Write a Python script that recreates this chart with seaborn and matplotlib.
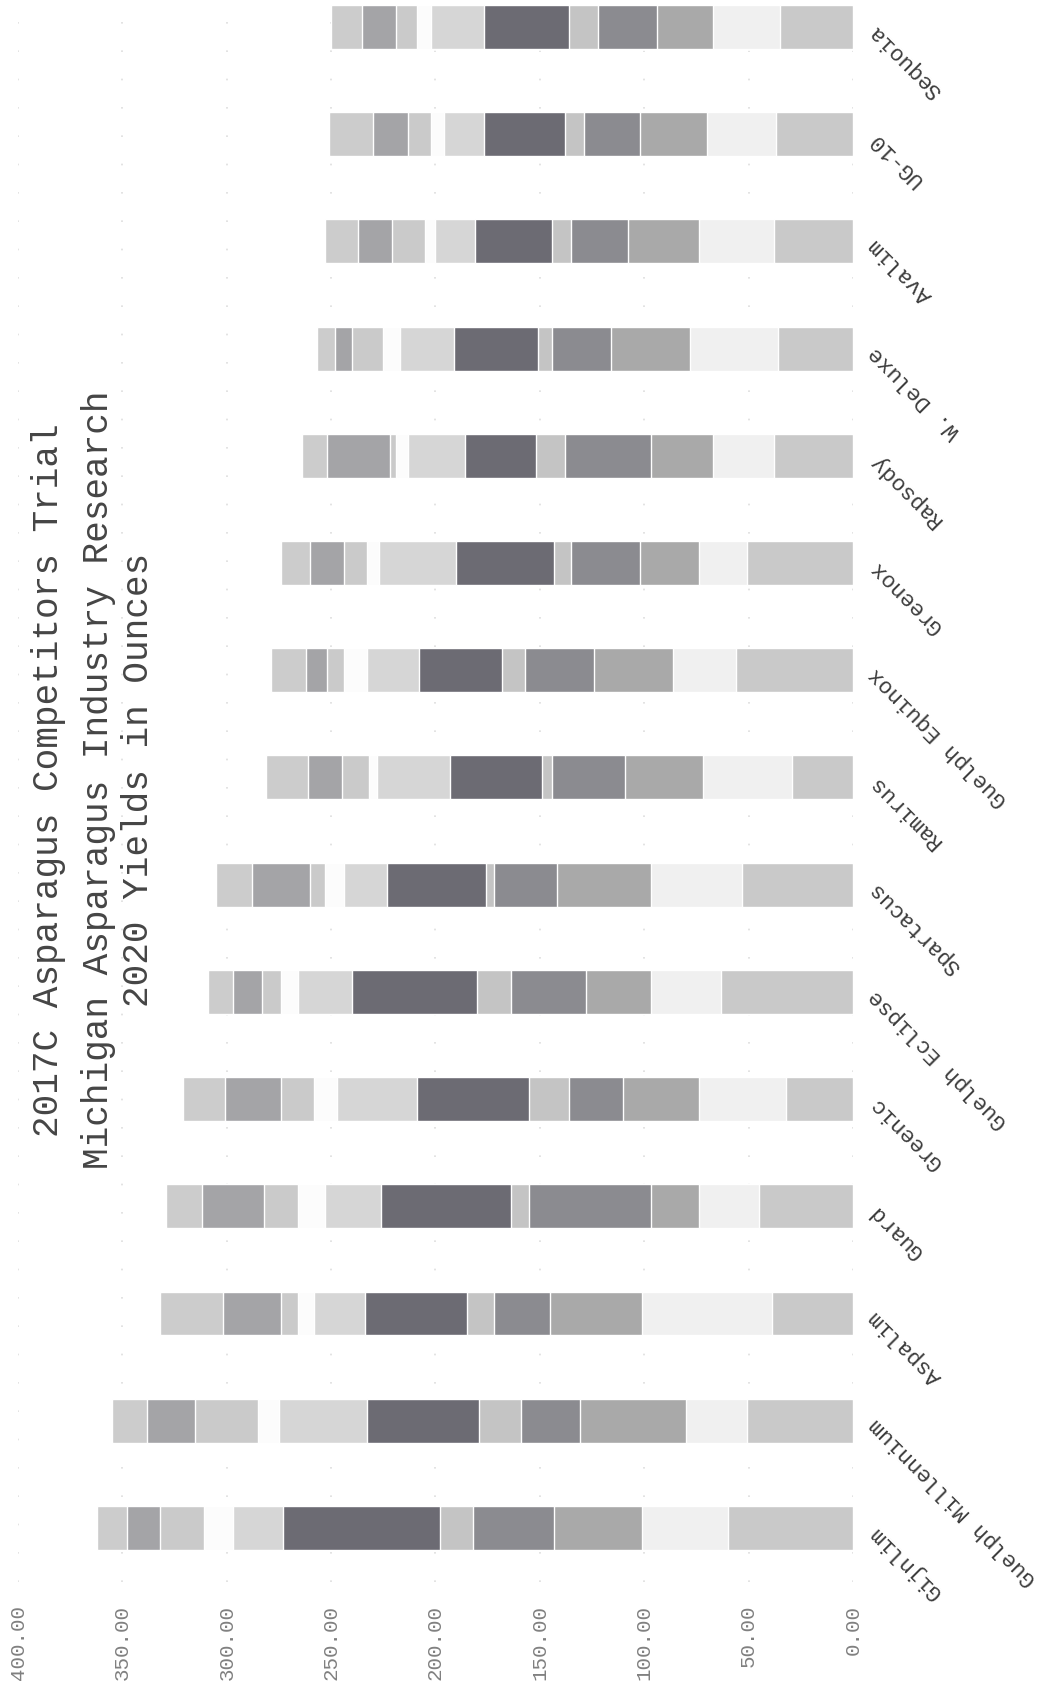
import numpy as np
import pandas as pd
import seaborn as sns
import matplotlib.pyplot as plt

varieties = ["Sequoia", "UG-10", "Avalim", "W. Deluxe", "Rapsody", "Greenox",
             "Guelph Equinox", "Ramirus", "Spartacus", "Guelph Eclipse",
             "Greenic", "Guard", "Aspalim", "Guelph Millennium", "Gijnlim"]

# ounces per harvest block, bottom of the stack first
h1 = [35, 37, 38, 36, 38, 51, 56, 29, 53, 63, 32, 45, 39, 51, 60]
h2 = [32, 33, 36, 42, 29, 23, 30, 43, 44, 34, 42, 29, 62, 29, 41]
h3 = [27, 32, 34, 38, 30, 28, 38, 37, 45, 31, 36, 23, 44, 51, 42]
h4 = [28, 27, 27, 28, 41, 33, 33, 35, 30, 36, 26, 58, 27, 28, 39]
h5 = [14, 9, 9, 7, 14, 8, 11, 5, 4, 16, 19, 9, 13, 20, 16]
h6 = [41, 39, 37, 40, 34, 47, 40, 44, 47, 60, 54, 62, 49, 54, 75]
h7 = [25, 19, 19, 26, 27, 37, 25, 35, 21, 26, 38, 27, 24, 42, 24]
h8 = [7, 6, 5, 8, 6, 6, 11, 4, 9, 8, 11, 13, 8, 10, 14]
h9 = [10, 11, 16, 15, 3, 11, 8, 13, 7, 9, 16, 16, 8, 30, 21]
h10 = [16, 17, 16, 8, 30, 16, 10, 16, 28, 14, 27, 30, 28, 23, 16]
h11 = [15, 21, 16, 9, 12, 14, 17, 20, 17, 12, 20, 17, 30, 17, 14]

blocks = [h1, h2, h3, h4, h5, h6, h7, h8, h9, h10, h11]
block_names = ["h%d" % (i + 1) for i in range(len(blocks))]

# grey shades as they came out on the photocopy
shades = ["#c9c9c9", "#f0f0f0", "#a9a9a9", "#8b8b90", "#c4c4c4", "#6c6b73",
          "#d6d6d6", "#fcfcfc", "#cacaca", "#a4a4a7", "#cccccc"]

ticks = [0, 50, 100, 150, 200, 250, 300, 350, 400]

df = pd.DataFrame(dict(zip(block_names, blocks)), index=varieties)
stack = df.cumsum(axis=1)

sns.set_theme(style="white")
plt.rcParams['font.family'] = ['Liberation Mono', 'DejaVu Sans Mono']

fig = plt.figure(figsize=(10.47, 16.9), dpi=100)
ax = fig.add_axes([0.0172, 0.0636, 0.7975, 0.9516])

# draw the tallest cumulative bar first, smaller ones on top -> stacked look
for name, shade in reversed(list(zip(block_names, shades))):
    sns.barplot(x=stack[name].values, y=varieties, color=shade, saturation=1,
                width=0.41, orient="h", errorbar=None, ax=ax)

ax.set_xlim(400, 0)
ax.set_xticks(ticks)
ax.set_xticklabels(["%.2f" % t for t in ticks], rotation=90, fontsize=15,
                   color="#808080")
ax.tick_params(axis="x", length=0, pad=16)

ax.set_yticks(range(len(varieties)))
ax.set_yticklabels(varieties, rotation=135, ha="right", va="center",
                   rotation_mode="anchor", fontsize=16, color="#3c3c3c")
ax.yaxis.tick_right()
ax.tick_params(axis="y", length=0, pad=14)

# gridlines barely survived the copier, only a few dots left
ax.grid(axis="x", color="#dedede", linestyle=(0, (1, 16)), linewidth=1.2)
ax.grid(axis="y", visible=False)
ax.set_axisbelow(True)
ax.set_xlabel("")
ax.set_ylabel("")
for s in ax.spines.values():
    s.set_visible(False)

title_lines = ["2017C Asparagus Competitors Trial",
               "Michigan Asparagus Industry Research",
               "2020 Yields in Ounces"]
for xpx, line in zip([49, 99, 139], title_lines):
    fig.text(xpx / 1047, 1 - 780 / 1690, line, rotation=90, ha="center",
             va="center", fontsize=26, color="#454545")

fig.savefig("out.png", dpi=100)
